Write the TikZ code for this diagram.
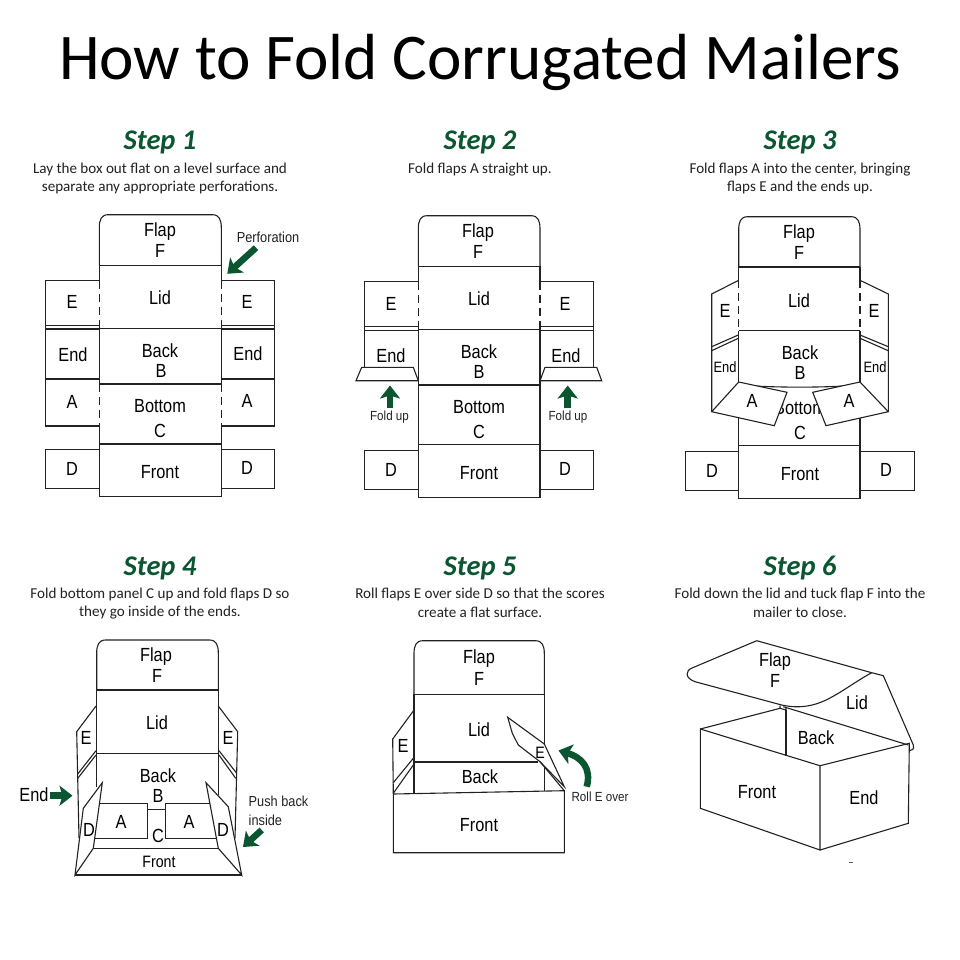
\documentclass[tikz,border=0pt]{standalone}
\usepackage{fontspec}
\setmainfont{Liberation Sans}
\newfontfamily\calfont{Carlito}
\usetikzlibrary{arrows.meta}
\definecolor{ink}{HTML}{222222}
\definecolor{leaf}{HTML}{0B5630}
\newcommand\lsize[1]{\fontsize{#1}{#1}\selectfont}
\newcommand\flapshape[4]{% x1 x2 ytop yfold
  \draw[ln] (#1,#4) -- (#1,#3+13) .. controls (#1,#3+5) and (#1+2,#3) .. (#1+9,#3)
    -- (#2-9,#3) .. controls (#2-2,#3) and (#2,#3+5) .. (#2,#3+13) -- (#2,#4);}
\tikzset{
  x=1pt,y=-1pt,
  ln/.style={draw=ink,line width=1.1pt},
  fl/.style={draw=ink,line width=1.1pt,fill=white},
  dsh/.style={draw=ink,line width=1.1pt,dash pattern=on 8pt off 5pt},
  lbl/.style={inner sep=0pt,text height=13pt,text depth=0pt,font=\lsize{19}\addfontfeature{FakeStretch=0.86},text=black},
  lbs/.style={lbl,text height=10.5pt,font=\lsize{15}\addfontfeature{FakeStretch=0.86}},
  sml/.style={inner sep=0pt,font=\lsize{14.5}\addfontfeature{FakeStretch=0.88},text=ink},
  tiny/.style={inner sep=0pt,font=\lsize{13.2}\addfontfeature{FakeStretch=0.88},text=ink},
  ttl/.style={inner sep=0pt,font=\calfont\lsize{65.2},text=black},
  stp/.style={inner sep=0pt,font=\calfont\bfseries\itshape\lsize{28.5},text=leaf},
  sub/.style={inner sep=0pt,font=\calfont\lsize{15.1},text=ink},
  arw/.style={draw=leaf,line width=6.5pt,-{Stealth[length=13pt,width=20pt,inset=3pt]}},
}
\begin{document}
\begin{tikzpicture}
\useasboundingbox (0,0) rectangle (960,960);
\fill[white] (0,0) rectangle (960,960);
% headings
\node[ttl] (title) at (480,62) {How to Fold Corrugated Mailers};
\node[stp] (h1) at (160,142) {Step 1};
\node[stp] (h2) at (480,142) {Step 2};
\node[stp] (h3) at (800,142) {Step 3};
\node[stp] (h4) at (160,568) {Step 4};
\node[stp] (h5) at (480,568) {Step 5};
\node[stp] (h6) at (800,568) {Step 6};
\node[sub] (s1a) at (160,169.5) {Lay the box out flat on a level surface and};
\node[sub] (s1b) at (160,187.5) {separate any appropriate perforations.};
\node[sub] (s2a) at (480,169.5) {Fold flaps A straight up.};
\node[sub] (s3a) at (800,169.5) {Fold flaps A into the center, bringing};
\node[sub] (s3b) at (800,187.5) {flaps E and the ends up.};
\node[sub] (s4a) at (160,594.5) {Fold bottom panel C up and fold flaps D so};
\node[sub] (s4b) at (160,612.5) {they go inside of the ends.};
\node[sub] (s5a) at (480,594.5) {Roll flaps E over side D so that the scores};
\node[sub] (s5b) at (480,612.5) {create a flat surface.};
\node[sub] (s6a) at (800,594.5) {Fold down the lid and tuck flap F into the};
\node[sub] (s6b) at (800,612.5) {mailer to close.};

% ---------- Step 1
\flapshape{99.3}{221.3}{214.7}{265.3}
\draw[ln] (99.3,265.3) -- (221.3,265.3) (99.3,265.3) -- (99.3,280.7) (221.3,265.3) -- (221.3,280.7);
\draw[ln] (99.3,328.3) -- (221.3,328.3) (99.3,384) -- (221.3,384) (99.3,444) -- (221.3,444);
\draw[ln] (99.3,328.3) -- (99.3,384) (221.3,328.3) -- (221.3,384);
\draw[ln] (99.3,426) -- (99.3,496.3) -- (221.3,496.3) -- (221.3,426);
\draw[dsh] (99.3,280.7) -- (99.3,328) (221.3,280.7) -- (221.3,328) (99.3,384) -- (99.3,426) (221.3,384) -- (221.3,426);
\draw[ln] (99.3,280.7) -- (45.7,280.7) -- (45.7,426) -- (99.3,426);
\draw[ln] (221.3,280.7) -- (274.3,280.7) -- (274.3,426) -- (221.3,426);
\draw[ln] (45.7,325.7) -- (99.3,325.7) (45.7,329) -- (99.3,329) (45.7,379) -- (99.3,379);
\draw[ln] (221.3,325.7) -- (274.3,325.7) (221.3,329) -- (274.3,329) (221.3,379) -- (274.3,379);
\draw[ln] (99.3,449.7) -- (45.7,449.7) -- (45.7,488.3) -- (99.3,488.3);
\draw[ln] (221.3,449.7) -- (274.3,449.7) -- (274.3,488.3) -- (221.3,488.3);
\coordinate (p1t) at (256,247.7); \coordinate (p1h) at (227.3,273.8);
\draw[arw] (p1t) -- (p1h);
\node[lbl] (a1) at (160,230) {Flap};
\node[lbl] (a2) at (160,251) {F};
\node[lbl] (a3) at (160,298) {Lid};
\node[lbl] (a4) at (72,302) {E};
\node[lbl] (a5) at (247,302) {E};
\node[lbl] (a6) at (73,355) {End};
\node[lbl] (a7) at (248,354) {End};
\node[lbl] (a8) at (160,351) {Back};
\node[lbl] (a9) at (161,371) {B};
\node[lbl] (a10) at (72,402) {A};
\node[lbl] (a11) at (247,401) {A};
\node[lbl] (a12) at (160,406) {Bottom};
\node[lbl] (a13) at (160,431) {C};
\node[lbl] (a14) at (72,469) {D};
\node[lbl] (a15) at (247,468) {D};
\node[lbl] (a16) at (160,472) {Front};
\node[sml] (a17) at (268,237) {Perforation};

% ---------- Step 2
\flapshape{418.3}{540}{215.7}{266.3}
\draw[ln] (418.3,266.3) -- (540,266.3) (418.3,329.3) -- (540,329.3) (418.3,385) -- (540,385) (418.3,444.7) -- (540,444.7);
\draw[ln] (418.3,266.3) -- (418.3,281.7) (540,266.3) -- (540,281.7);
\draw[dsh] (418.3,281.7) -- (418.3,329) (540,281.7) -- (540,329);
\draw[ln] (418.3,329.3) -- (418.3,497.3) -- (540,497.3) -- (540,329.3);
\draw[ln] (418.3,281.7) -- (364.3,281.7) -- (364.3,367.3);
\draw[ln] (540,281.7) -- (593.3,281.7) -- (593.3,367.3);
\draw[ln] (364.3,326.7) -- (418.3,326.7) (364.3,330.7) -- (418.3,330.7);
\draw[ln] (540,326.7) -- (593.3,326.7) (540,330.7) -- (593.3,330.7);
\draw[ln] (418.3,380.7) -- (356,380.7) -- (361.7,367.3) -- (413.3,367.3) -- (418.3,380.7);
\draw[ln] (540,380.7) -- (545,367.3) -- (596.7,367.3) -- (601.7,380.7) -- (540,380.7);
\draw[ln] (418.3,450.7) -- (364.3,450.7) -- (364.3,489.3) -- (418.3,489.3);
\draw[ln] (540,450.7) -- (593.3,450.7) -- (593.3,489.3) -- (540,489.3);
\coordinate (u1t) at (390,407.5); \coordinate (u1h) at (390,385.5);
\coordinate (u2t) at (567.7,407.5); \coordinate (u2h) at (567.7,385.5);
\draw[arw] (u1t) -- (u1h);
\draw[arw] (u2t) -- (u2h);
\node[lbl] (b1) at (478,231) {Flap};
\node[lbl] (b2) at (478,252) {F};
\node[lbl] (b3) at (479,299) {Lid};
\node[lbl] (b4) at (391,304) {E};
\node[lbl] (b5) at (565,304) {E};
\node[lbl] (b6) at (391,356) {End};
\node[lbl] (b7) at (566,356) {End};
\node[lbl] (b8) at (479,352) {Back};
\node[lbl] (b9) at (479,372) {B};
\node[lbl] (b10) at (479,407) {Bottom};
\node[lbl] (b11) at (479,432) {C};
\node[lbl] (b12) at (391,470) {D};
\node[lbl] (b13) at (565,469) {D};
\node[lbl] (b14) at (479,473) {Front};
\node[tiny] (b15) at (389.5,417) {Fold up};
\node[tiny] (b16) at (568,417) {Fold up};

% ---------- Step 3
\flapshape{738.7}{860}{216.7}{267}
\draw[ln] (738.7,267) -- (860,267) (738.7,330.7) -- (860,330.7) (738.7,445.7) -- (860,445.7);
\draw[ln] (738.7,267) -- (738.7,280.3) (860,267) -- (860,280.3);
\draw[dsh] (738.7,280.3) -- (738.7,330) (860,280.3) -- (860,330);
\draw[ln] (738.7,330.7) -- (738.7,382) (860,330.7) -- (860,382);
\draw[ln] (738.7,415) -- (738.7,498.3) -- (860,498.3) -- (860,415);
\draw[ln] (755,386) .. controls (780,387.5) and (820,387.5) .. (843,386);
\draw[ln] (738.7,280.3) -- (711.7,294) -- (711.7,411.7);
\draw[ln] (860,280.3) -- (888.3,294) -- (888.3,411.7);
\draw[ln] (711.7,346.7) -- (738.3,335) (711.7,350.7) -- (738.3,338.3);
\draw[ln] (888.3,346.7) -- (860,335) (888.3,350.7) -- (860,338.3);
\node[lbl] (c1) at (799,232) {Flap};
\node[lbl] (c2) at (799,253) {F};
\node[lbl] (c3) at (799,301) {Lid};
\node[lbl] (c4) at (725,311) {E};
\node[lbl] (c5) at (874,311) {E};
\node[lbs] (c6) at (725,367) {End};
\node[lbs] (c7) at (875,367) {End};
\node[lbl] (c8) at (800,353) {Back};
\node[lbl] (c9) at (800,373) {B};
\node[lbl] (c10) at (800,408) {Bottom};
\draw[fl] (738.7,382) -- (787,392.3) -- (774.3,425.7) -- (711.7,411.7) -- cycle;
\draw[fl] (860,382) -- (812.7,392.3) -- (826,425.7) -- (888.3,411.7) -- cycle;
\node[lbl] (c11) at (752,401) {A};
\node[lbl] (c12) at (849,401) {A};
\node[lbl] (c13) at (800,433) {C};
\draw[ln] (738.7,451.7) -- (685.3,451.7) -- (685.3,490.7) -- (738.7,490.7);
\draw[ln] (860,451.7) -- (914.3,451.7) -- (914.3,490.7) -- (860,490.7);
\node[lbl] (c14) at (712,471) {D};
\node[lbl] (c15) at (886,470) {D};
\node[lbl] (c16) at (800,474) {Front};

% ---------- Step 4
\flapshape{96.7}{218.3}{640}{690}
\draw[ln] (96.7,690) -- (218.3,690) (96.7,753.7) -- (218.3,753.7);
\draw[ln] (96.7,690) -- (96.7,787) (218.3,690) -- (218.3,795);
\draw[ln] (96,706) -- (76.7,731.7) -- (79,838);
\draw[ln] (218.3,706) -- (237.7,731.7) -- (235,838.3);
\draw[ln] (77.7,774) -- (96,750.7) (78,778) -- (96,755);
\draw[ln] (219,750.7) -- (236.7,773.3) (219,755) -- (235.7,778.3);
\draw[ln] (147.7,809.3) -- (165.7,809.3);
\draw[ln] (99,803.3) -- (147.7,803.3) -- (147.7,838.3) -- (95,838.3);
\draw[ln] (210,803.3) -- (165.7,803.3) -- (165.7,838.3) -- (216.7,838.3);
\draw[ln] (93.3,848.3) -- (218.3,848.3) (75,875) -- (241.7,875);
\draw[fl] (102.3,782.7) -- (83.3,808.3) -- (75,875) -- (93.3,848.3) -- cycle;
\draw[fl] (206,782.7) -- (228.3,806.7) -- (241.7,875) -- (218.3,848.3) -- cycle;
\coordinate (e4t) at (50,795.7); \coordinate (e4h) at (72.5,795.7);
\coordinate (b4t) at (261.7,830); \coordinate (b4h) at (243,847);
\draw[arw] (e4t) -- (e4h);
\draw[arw] (b4t) -- (b4h);
\node[lbl] (d1) at (156,655) {Flap};
\node[lbl] (d2) at (157,676) {F};
\node[lbl] (d3) at (157,723) {Lid};
\node[lbl] (d4) at (86,738) {E};
\node[lbl] (d5) at (228,738) {E};
\node[lbl] (d6) at (158,776) {Back};
\node[lbl] (d7) at (158,796) {B};
\node[lbl] (d8) at (34,795) {End};
\node[lbl] (d9) at (121,822) {A};
\node[lbl] (d10) at (189,822) {A};
\node[lbl] (d11) at (158,836) {C};
\node[lbl] (d12) at (89,830) {D};
\node[lbl] (d13) at (223,830) {D};
\node[lbs,font=\lsize{16.5}\addfontfeature{FakeStretch=0.86}] (d14) at (159,862) {Front};
\node[sml,anchor=west] (d15) at (248.5,801) {Push back};
\node[sml,anchor=west] (d16) at (248.5,820) {inside};

% ---------- Step 5
\flapshape{414}{544.3}{640.7}{694.3}
\draw[ln] (414,694.3) -- (544.3,694.3);
\draw[ln] (414,694.3) -- (414,793.5);
\draw[ln] (544.3,694.3) -- (544.3,744) (544.3,766) -- (544.3,791);
\draw[ln] (414,762) -- (538,762);
\draw[fl] (393.3,794) -- (564.3,790.7) -- (564.3,852.7) -- (393.3,852.7) -- cycle;
\draw[ln] (413.3,711) -- (392.7,739) -- (393.3,794);
\draw[ln] (393.3,782.7) -- (413.3,758.3) (393.3,793.3) -- (413.3,765);
\draw[fl] (507.7,717.3) -- (544.3,744) -- (564.3,786.7) -- (540,761.7) -- (518.3,745) -- (512.3,733.3) -- cycle;
\draw[ln] (540,761.7) -- (564.3,790.7);
\coordinate (r5t) at (586.7,786.7); \coordinate (r5h) at (558.5,750.5);
\draw[arw] (r5t) .. controls (592,768) and (581,757) .. (r5h);
\node[lbl] (e1) at (479,657) {Flap};
\node[lbl] (e2) at (479,679) {F};
\node[lbl] (e3) at (479,730) {Lid};
\node[lbl] (e4) at (403,746) {E};
\node[lbs,font=\lsize{16.5}\addfontfeature{FakeStretch=0.86}] (e5) at (540,753) {E};
\node[lbl] (e6) at (480,777) {Back};
\node[lbl] (e7) at (479,825) {Front};
\node[tiny] (e8) at (600,797) {Roll E over};

% ---------- Step 6
\draw[ln] (700.3,729) -- (820,765.7) -- (820,850) -- (700.3,808.3) -- cycle;
\draw[ln] (820,765.7) -- (909.3,743.3) -- (908.3,823.3) -- (820,850);
\draw[ln] (700.3,729) -- (780,708.3);
\draw[ln] (786,710) -- (786,756);
\draw[ln] (783.3,706.7) -- (908.3,745);
\draw[ln] (756.7,640.7) -- (871.7,672.7) -- (883.3,675.7) -- (913.3,745)
  .. controls (914.5,749) and (912,751) .. (909.3,750.7);
\draw[ln] (756.7,640.7) -- (692,668) .. controls (685,671) and (685,678) .. (695,681.7)
  -- (781.7,705) .. controls (800,709) and (815,706) .. (830,698)
  .. controls (845,690) and (858,680) .. (871.7,672.7);
\draw[ln] (780,705.5) -- (780,708.3) -- (786,710) -- (786,707);
\draw[draw=ink!70,line width=0.8pt] (849,862.5) -- (853,862.5);
\node[lbl] (f1) at (775,660) {Flap};
\node[lbl] (f2) at (775,681) {F};
\node[lbl] (f3) at (857,703) {Lid};
\node[lbl] (f4) at (816,738) {Back};
\node[lbl] (f5) at (757,792) {Front};
\node[lbl] (f6) at (864,798) {End};
\end{tikzpicture}
\end{document}
